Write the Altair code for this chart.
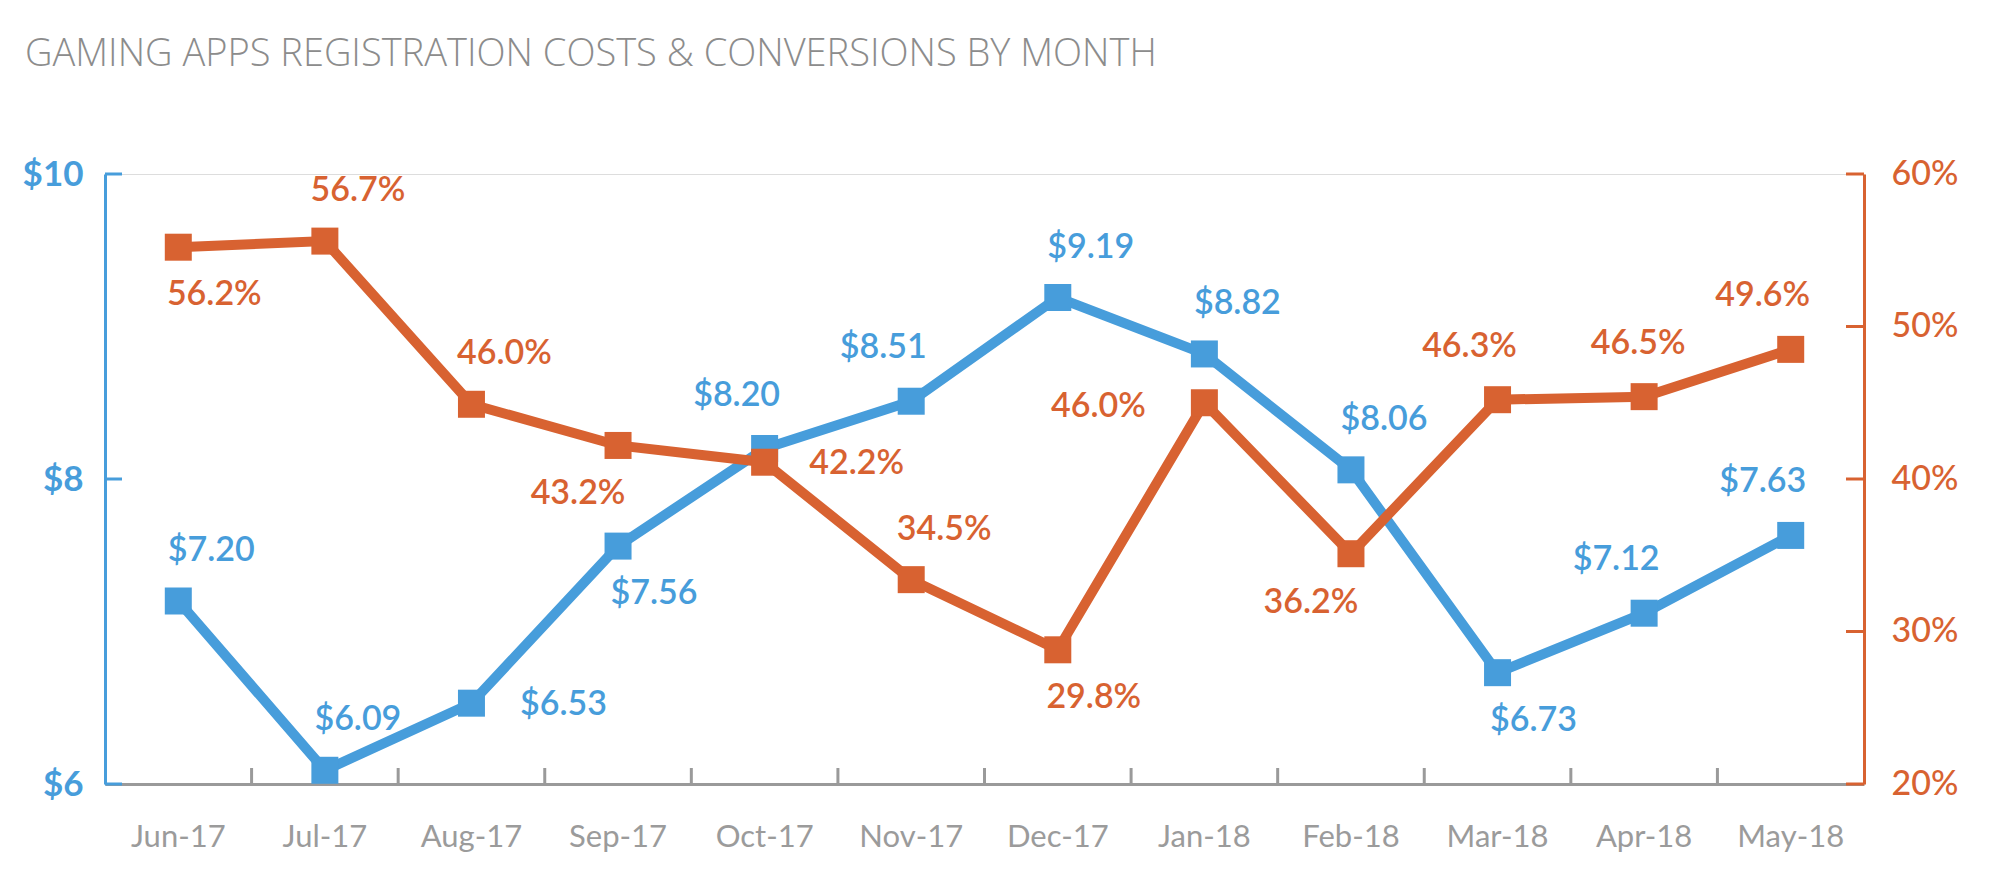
import altair as alt
import pandas as pd

# ---------------- data ----------------
months = ["Jun-17", "Jul-17", "Aug-17", "Sep-17", "Oct-17", "Nov-17",
          "Dec-17", "Jan-18", "Feb-18", "Mar-18", "Apr-18", "May-18"]
cost = [7.20, 6.09, 6.53, 7.56, 8.20, 8.51, 9.19, 8.82, 8.06, 6.73, 7.12, 7.63]
# conversion rate as plotted
conv = [55.2, 55.6, 44.9, 42.2, 41.1, 33.4, 28.8, 45.0, 35.1, 45.2, 45.4, 48.5]
# conversion rate as printed on the chart
conv_labels = ["56.2%", "56.7%", "46.0%", "43.2%", "42.2%", "34.5%",
               "29.8%", "46.0%", "36.2%", "46.3%", "46.5%", "49.6%"]
cost_ticks = [6, 8, 10]
conv_ticks = [20, 30, 40, 50, 60]
title_text = "GAMING APPS REGISTRATION COSTS & CONVERSIONS BY MONTH"

# label placement (compass direction relative to the marker)
cost_pos = ["ne", "ne", "e", "se", "nw", "nw", "ne", "ne", "ne", "se", "nw", "nw"]
conv_pos = ["se", "ne", "ne", "sw", "e", "ne", "se", "w", "sw", "nw", "n", "nw"]

# ---------------- style ----------------
BLUE = "#479ddb"
ORANGE = "#d86231"
GRAY = "#9a9a9a"
FONT = "Lato"
W, H = 1759, 610
OFFSETS = {
    "ne": (33, -50), "nw": (-28, -53), "se": (36, 48), "sw": (-40, 49),
    "e": (92, 2), "w": (-106, 4), "n": (-6, -53),
}

df = pd.DataFrame({
    "month": months, "cost": cost, "conv": conv, "conv_label": conv_labels,
    "cost_pos": cost_pos, "conv_pos": conv_pos, "idx": list(range(len(months))),
})
cost_tick_df = pd.DataFrame({"cost": cost_ticks})
conv_tick_df = pd.DataFrame({"conv": conv_ticks})

xscale = alt.Scale(type="band", paddingInner=0, paddingOuter=0)
cost_scale = alt.Scale(domain=[6, 10], nice=False, zero=False)
conv_scale = alt.Scale(domain=[20, 60], nice=False, zero=False)

x_axis = alt.Axis(title=None, ticks=False, grid=False, domainColor=GRAY, domainWidth=3,
                  labelFont=FONT, labelFontSize=31, labelColor="#9b9b9b",
                  labelPadding=38, labelAngle=0)
cost_axis = alt.Axis(title=None, orient="left", values=cost_ticks, ticks=False, grid=False,
                     labelExpr="'$' + datum.value", domainColor=BLUE, domainWidth=3,
                     labelColor=BLUE, labelFont=FONT, labelFontSize=35,
                     labelFontWeight=700, labelPadding=22)
conv_axis = alt.Axis(title=None, orient="right", values=conv_ticks, ticks=False, grid=False,
                     labelExpr="datum.value + '%'", domainColor=ORANGE, domainWidth=3,
                     labelColor=ORANGE, labelFont=FONT, labelFontSize=34,
                     labelFontWeight=500, labelPadding=27)

base = alt.Chart(df)
xe = alt.X("month:N", sort=months, scale=xscale)

# x-axis ticks between months, pointing up
x_ticks = base.transform_filter("datum.idx > 0").mark_rule(
    color=GRAY, strokeWidth=3
).encode(
    x=alt.X("month:N", sort=months, scale=xscale, bandPosition=0),
    y=alt.value(H), y2=alt.value(H - 16),
)

# ---- cost layer ----
cost_line = base.mark_line(color=BLUE, strokeWidth=10).encode(
    x=alt.X("month:N", sort=months, scale=xscale, axis=x_axis),
    y=alt.Y("cost:Q", scale=cost_scale, axis=cost_axis))
cost_pts = base.mark_point(shape="square", filled=True, size=729, color=BLUE, opacity=1).encode(
    x=xe, y=alt.Y("cost:Q", scale=cost_scale))
cost_tick_rules = alt.Chart(cost_tick_df).mark_rule(color=BLUE, strokeWidth=3).encode(
    y=alt.Y("cost:Q", scale=cost_scale), x=alt.value(0), x2=alt.value(17))
cost_texts = []
for p in sorted(set(cost_pos)):
    dx, dy = OFFSETS[p]
    cost_texts.append(
        base.transform_filter(alt.datum.cost_pos == p).mark_text(
            dx=dx, dy=dy, align="center", baseline="middle", font=FONT,
            fontSize=34, fontWeight=600, color=BLUE
        ).encode(x=xe, y=alt.Y("cost:Q", scale=cost_scale),
                 text=alt.Text("cost:Q", format="$.2f"))
    )
cost_layer = alt.layer(cost_line, cost_tick_rules, x_ticks, cost_pts, *cost_texts)

# ---- conversion layer ----
conv_line = base.mark_line(color=ORANGE, strokeWidth=10).encode(
    x=xe, y=alt.Y("conv:Q", scale=conv_scale, axis=conv_axis))
conv_pts = base.mark_point(shape="square", filled=True, size=729, color=ORANGE, opacity=1).encode(
    x=xe, y=alt.Y("conv:Q", scale=conv_scale))
conv_tick_rules = alt.Chart(conv_tick_df).mark_rule(color=ORANGE, strokeWidth=3).encode(
    y=alt.Y("conv:Q", scale=conv_scale), x=alt.value(W - 18), x2=alt.value(W))
conv_texts = []
for p in sorted(set(conv_pos)):
    dx, dy = OFFSETS[p]
    conv_texts.append(
        base.transform_filter(alt.datum.conv_pos == p).mark_text(
            dx=dx, dy=dy, align="center", baseline="middle", font=FONT,
            fontSize=34, fontWeight=600, color=ORANGE
        ).encode(x=xe, y=alt.Y("conv:Q", scale=conv_scale), text="conv_label:N")
    )
conv_layer = alt.layer(conv_line, conv_tick_rules, conv_pts, *conv_texts)

chart = alt.layer(cost_layer, conv_layer).resolve_scale(y="independent").properties(
    width=W, height=H,
    padding={"left": 97, "top": 166, "right": 110, "bottom": 80},
    autosize=alt.AutoSizeParams(type="none"),
    title=alt.TitleParams(title_text, anchor="start", frame="group", dx=-80, offset=83,
                          font="Open Sans", fontSize=38, fontWeight=300, color="#8c8c8c"),
).configure_view(stroke=None).configure(background="white")

chart.save("out.html", embed_options={"renderer": "svg", "actions": False})
